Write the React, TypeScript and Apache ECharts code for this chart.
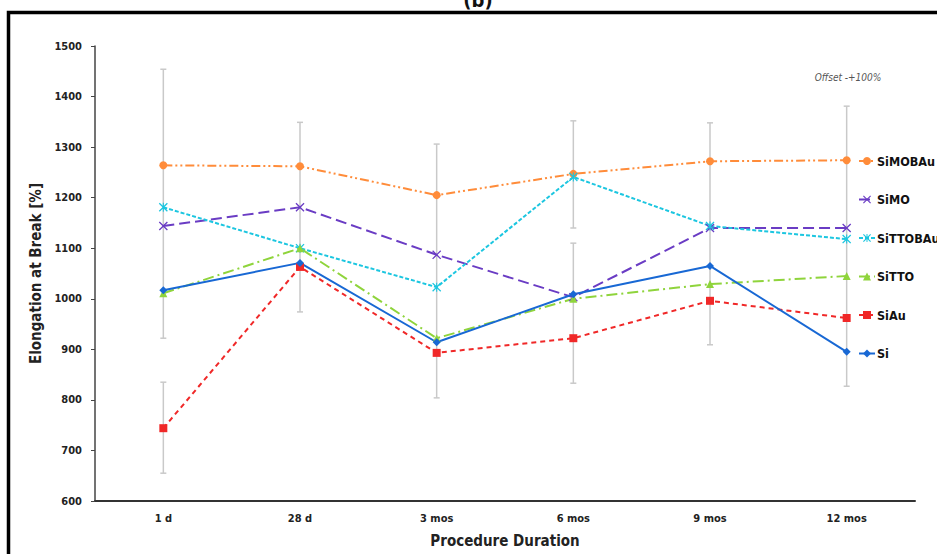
import React, { useEffect, useRef } from "react";
import * as echarts from "echarts";

const categories = ["1 d", "28 d", "3 mos", "6 mos", "9 mos", "12 mos"];
const seriesNames = ["SiMOBAu", "SiMO", "SiTTOBAu", "SiTTO", "SiAu", "Si"];
const siMOBAu = [1264, 1262, 1205, 1247, 1272, 1274];
const siMO = [1144, 1181, 1087, 1003, 1140, 1140];
const siTTOBAu = [1181, 1100, 1023, 1241, 1144, 1118];
const siTTO = [1011, 1100, 922, 1000, 1029, 1045];
const siAu = [744, 1063, 893, 922, 996, 962];
const si = [1017, 1071, 914, 1009, 1065, 895];
// error bar segments: [category index, upper, lower]
const errorBars = [
  [0, 1454, 922],
  [0, 835, 655],
  [1, 1349, 974],
  [2, 1306, 804],
  [3, 1352, 1140],
  [3, 1110, 833],
  [4, 1348, 909],
  [5, 1381, 827],
];

const FONT = "'Liberation Sans Narrow', 'DejaVu Sans Condensed', 'Roboto', sans-serif";
const X_PATH = "path://M0,1L1,0L5,4L9,0L10,1L6,5L10,9L9,10L5,6L1,10L0,9L4,5Z";
const STAR_PATH =
  "path://M0,1L1,0L5,4L9,0L10,1L6,5L10,9L9,10L5,6L1,10L0,9L4,5Z M4.4,0L5.6,0L5.6,10L4.4,10Z";

export default function App() {
  const ref = useRef<HTMLDivElement>(null);
  useEffect(() => {
    if (!ref.current) return;
    const chart = echarts.init(ref.current, null, { renderer: "svg" });
    const mk = (
      name: string,
      data: number[],
      color: string,
      type: any,
      symbol: string,
      size: number,
      width = 2
    ) => ({
      name,
      type: "line",
      data,
      z: 5,
      symbol,
      symbolSize: size,
      itemStyle: { color },
      lineStyle: { color, width, type },
    });
    chart.setOption({
      animation: false,
      backgroundColor: "#fff",
      grid: { left: 95, right: 22, top: 46, bottom: 53 },
      legend: {
        orient: "vertical",
        left: 853,
        top: 149,
        itemWidth: 16,
        itemHeight: 10,
        itemGap: 24.5,
        data: seriesNames,
        textStyle: {
          fontFamily: FONT,
          fontWeight: "bold",
          fontSize: 12.5,
          color: "#111",
          lineHeight: 14,
          padding: [0, 0, 0, -3],
        },
      },
      xAxis: {
        type: "category",
        data: categories,
        boundaryGap: true,
        name: "Procedure Duration",
        nameLocation: "middle",
        nameGap: 32,
        nameTextStyle: { fontFamily: FONT, fontWeight: "bold", fontSize: 15, color: "#222" },
        axisLine: { lineStyle: { color: "#333", width: 2 } },
        axisTick: { alignWithLabel: true, length: 4, lineStyle: { color: "#333" } },
        axisLabel: { fontFamily: FONT, fontWeight: "bold", fontSize: 11, color: "#222", margin: 12 },
        splitLine: { show: false },
      },
      yAxis: {
        type: "value",
        min: 600,
        max: 1500,
        interval: 100,
        name: "Elongation at Break [%]",
        nameLocation: "middle",
        nameGap: 50,
        nameTextStyle: { fontFamily: FONT, fontWeight: "bold", fontSize: 15, color: "#222" },
        axisLine: { show: true, lineStyle: { color: "#444", width: 1.5 } },
        axisTick: { show: true, length: 4, lineStyle: { color: "#444" } },
        axisLabel: {
          fontFamily: FONT,
          fontWeight: "bold",
          fontSize: 11,
          color: "#222",
          margin: 13,
          formatter: (v: number) => String(v),
        },
        splitLine: { show: false },
      },
      series: [
        {
          type: "custom",
          name: "errors",
          z: 1,
          silent: true,
          data: errorBars,
          renderItem: (params: any, api: any) => {
            const x = api.value(0);
            const hi = api.coord([x, api.value(1)]);
            const lo = api.coord([x, api.value(2)]);
            const cap = 3;
            const style = { stroke: "#c9c9c9", lineWidth: 1.5 };
            return {
              type: "group",
              children: [
                { type: "line", shape: { x1: hi[0], y1: hi[1], x2: lo[0], y2: lo[1] }, style },
                { type: "line", shape: { x1: hi[0] - cap, y1: hi[1], x2: hi[0] + cap, y2: hi[1] }, style },
                { type: "line", shape: { x1: lo[0] - cap, y1: lo[1], x2: lo[0] + cap, y2: lo[1] }, style },
              ],
            };
          },
        },
        mk("SiMOBAu", siMOBAu, "#FF8C3A", [9, 3, 2, 3, 2, 3], "circle", 8),
        mk("SiMO", siMO, "#6A3CC4", [11, 5], X_PATH, 9),
        mk("SiTTOBAu", siTTOBAu, "#1CC6E0", [4, 2], STAR_PATH, 9),
        mk("SiTTO", siTTO, "#8FD43C", [11, 4, 2, 4], "triangle", 8),
        mk("SiAu", siAu, "#F02828", [5, 4], "rect", 8),
        mk("Si", si, "#1868D4", "solid", "diamond", 8),
      ],
      graphic: [
        {
          type: "rect",
          shape: { x: 8.5, y: 12.5, width: 1000, height: 700 },
          style: { fill: "none", stroke: "#000", lineWidth: 3.5 },
          silent: true,
        },
        {
          type: "text",
          x: 478,
          y: 10,
          style: {
            text: "(b)",
            fontFamily: FONT,
            fontSize: 20,
            fontWeight: "bold",
            fill: "#111",
            align: "center",
            verticalAlign: "bottom",
          },
        },
        {
          type: "text",
          x: 848,
          y: 77,
          style: {
            text: "Offset -+100%",
            fontFamily: FONT,
            fontSize: 10,
            fontStyle: "italic",
            fill: "#555",
            align: "center",
            verticalAlign: "middle",
          },
        },
      ],
    });
    return () => chart.dispose();
  }, []);
  return (
    <div
      ref={ref}
      style={{ position: "absolute", left: 0, top: 0, width: 937, height: 554 }}
    />
  );
}
